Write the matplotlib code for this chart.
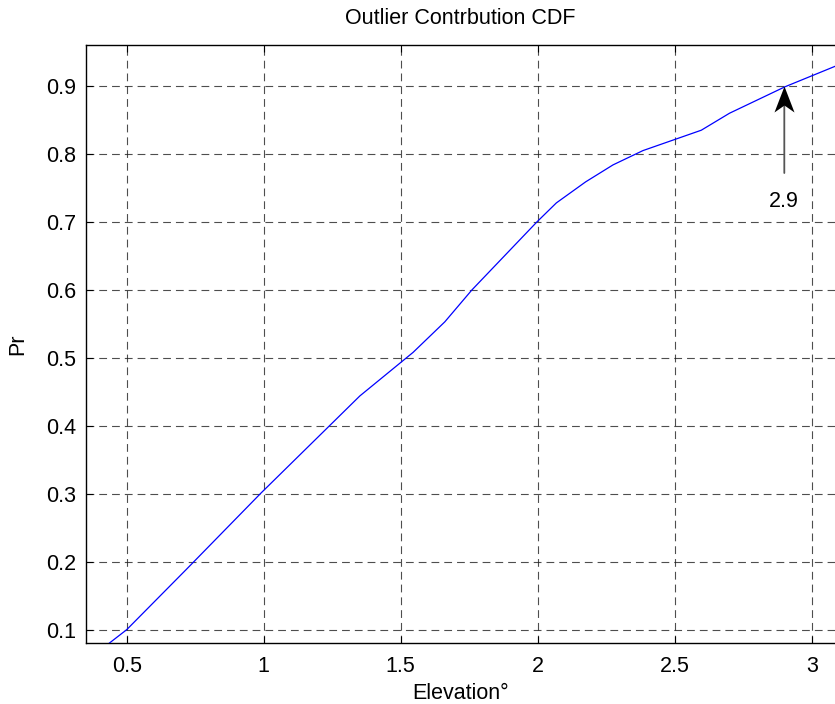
import matplotlib
matplotlib.use("Agg")
import matplotlib.pyplot as plt
from matplotlib.path import Path

plt.rcParams['font.family'] = ['Liberation Sans', 'DejaVu Sans']

# Empirical CDF of outlier contribution vs. elevation angle
elevation = [0.436, 0.5, 0.716, 0.99, 1.351, 1.545, 1.661, 1.76, 1.997, 2.068,
             2.175, 2.275, 2.384, 2.597, 2.700, 2.903, 3.085, 3.2]
prob = [0.080, 0.100, 0.188, 0.301, 0.444, 0.508, 0.553, 0.600, 0.700, 0.728,
        0.759, 0.784, 0.805, 0.835, 0.860, 0.899, 0.929, 0.947]

xticks = [0.5, 1, 1.5, 2, 2.5, 3]
xticklabels = ['0.5', '1', '1.5', '2', '2.5', '3']
yticks = [0.1, 0.2, 0.3, 0.4, 0.5, 0.6, 0.7, 0.8, 0.9]
yticklabels = ['0.1', '0.2', '0.3', '0.4', '0.5', '0.6', '0.7', '0.8', '0.9']

marker_x = 2.9
marker_y = 0.9
marker_label = '2.9'

FS = 15.5
W, H = 835, 704
fig = plt.figure(figsize=(W / 100, H / 100), dpi=100)
left, bottom, top = 86, 643, 45
ax = fig.add_axes([left / W, (H - bottom) / H, (W - left) / W, (bottom - top) / H])

ax.plot(elevation, prob, color='#0000ff', lw=0.9, zorder=3)

ax.set_xlim(0.3515, 3.085)
ax.set_ylim(0.0804, 0.9604)
ax.set_xticks(xticks)
ax.set_xticklabels(xticklabels)
ax.set_yticks(yticks)
ax.set_yticklabels(yticklabels)

ax.grid(True, color='#222222', linestyle=(0, (7, 4.5)), lw=0.8, alpha=0.8)
ax.tick_params(direction='in', length=5, width=0.8, labelsize=FS,
               top=True, right=False)
ax.tick_params(axis='x', pad=9)
ax.tick_params(axis='y', pad=7)
for s in ['left', 'bottom', 'top']:
    ax.spines[s].set_linewidth(1.0)
ax.spines['right'].set_visible(False)

ax.set_title('Outlier Contrbution CDF', fontsize=FS, pad=15)
ax.set_xlabel('Elevation°', fontsize=FS, labelpad=5)
ax.set_ylabel('Pr', fontsize=FS, labelpad=13)

# Text arrow: gray shaft plus a notched black head whose tip sits on the point
ax.annotate(marker_label, xy=(marker_x, marker_y), xytext=(marker_x, 0.73),
            ha='center', va='center', fontsize=FS,
            arrowprops=dict(arrowstyle='-', color='#555555', lw=1.3,
                            shrinkA=11, shrinkB=12))
head = Path([(0, 0), (-0.385, -1), (0, -0.73), (0.385, -1), (0, 0)],
            [Path.MOVETO, Path.LINETO, Path.LINETO, Path.LINETO, Path.CLOSEPOLY])
ax.plot([marker_x], [marker_y], marker=head, markersize=2 * 26 * 0.72,
        color='black', markeredgewidth=0, linestyle='none', zorder=4)

fig.savefig('out.png', dpi=100)
